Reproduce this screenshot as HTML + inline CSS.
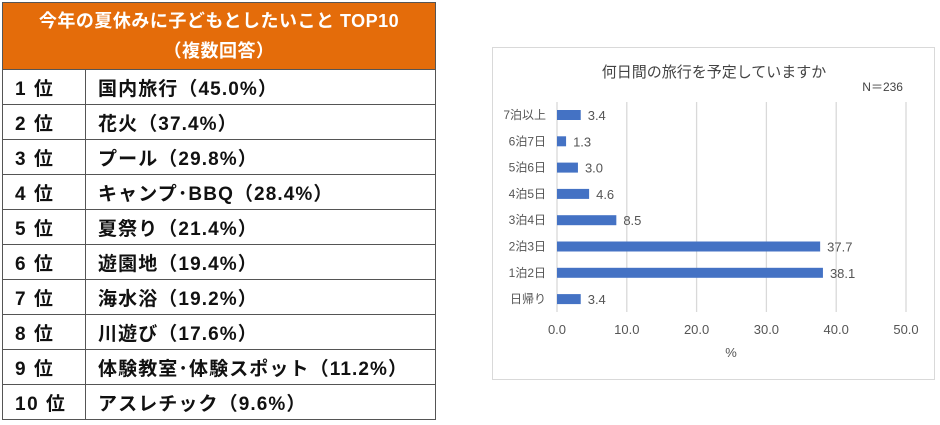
<!DOCTYPE html>
<html><head><meta charset="utf-8"><style>
body{margin:0;width:940px;height:425px;background:#fff;position:relative;overflow:hidden;font-family:"Liberation Sans","Noto Sans CJK JP",sans-serif}
table{position:absolute;left:2px;top:2px;border-collapse:collapse;width:434px}
td{border:1px solid #555;height:34px;padding:0 0 0 12px;font-weight:bold;font-size:19px;letter-spacing:1.1px;color:#111}
td.h{background:#E46C0A;color:#fff;text-align:center;font-size:18px;letter-spacing:0.5px;height:66px;line-height:30px;padding:0}
td.r{width:70px;letter-spacing:1.5px}
#chart{position:absolute;left:492px;top:47px;width:441px;height:331px;border:1px solid #d9d9d9}
</style></head><body>
<table>
<tr><td class="h" colspan="2">今年の夏休みに子どもとしたいこと TOP10<br>（複数回答）</td></tr>
<tr><td class="r">1 位</td><td>国内旅行（45.0%）</td></tr>
<tr><td class="r">2 位</td><td>花火（37.4%）</td></tr>
<tr><td class="r">3 位</td><td>プール（29.8%）</td></tr>
<tr><td class="r">4 位</td><td>キャンプ･BBQ（28.4%）</td></tr>
<tr><td class="r">5 位</td><td>夏祭り（21.4%）</td></tr>
<tr><td class="r">6 位</td><td>遊園地（19.4%）</td></tr>
<tr><td class="r">7 位</td><td>海水浴（19.2%）</td></tr>
<tr><td class="r">8 位</td><td>川遊び（17.6%）</td></tr>
<tr><td class="r">9 位</td><td>体験教室･体験スポット（11.2%）</td></tr>
<tr><td class="r">10 位</td><td>アスレチック（9.6%）</td></tr>
</table>
<div id="chart"></div>
<svg id="svg" width="940" height="425" style="position:absolute;left:0;top:0" font-family="Liberation Sans, Noto Sans CJK JP, sans-serif">
<text x="714" y="77" font-size="15" fill="#444" text-anchor="middle">何日間の旅行を予定していますか</text>
<text x="903" y="91" font-size="12" fill="#444" text-anchor="end">N＝236</text>
<text x="731" y="357" font-size="13" fill="#555" text-anchor="middle">%</text>
<g id="g"></g>
</svg>
<script>
const categories=["7泊以上","6泊7日","5泊6日","4泊5日","3泊4日","2泊3日","1泊2日","日帰り"];
const values=[3.4,1.3,3.0,4.6,8.5,37.7,38.1,3.4];
const ticks=[0,10,20,30,40,50];
const x=v=>557+v*(906-557)/50;
const y=i=>115+i*26.3;
const g=document.getElementById('g');const NS='http://www.w3.org/2000/svg';
function mk(t,a){const e=document.createElementNS(NS,t);for(const k in a)e.setAttribute(k,a[k]);g.appendChild(e);return e;}
ticks.forEach(t=>{
 const l=mk('line',{x1:x(t),x2:x(t),y1:102,y2:312,stroke:'#d9d9d9','stroke-width':1.3});
 
 
 const tx=mk('text',{x:x(t),y:334,'font-size':13,fill:'#555','text-anchor':'middle'});tx.textContent=t.toFixed(1);
 
 
});
categories.forEach((c,i)=>{
 const lb=mk('text',{x:546,y:y(i)+4,'font-size':12,fill:'#555','text-anchor':'end'});lb.textContent=c;
 
 
 const r=mk('rect',{x:x(0),y:y(i)-5,width:x(values[i])-x(0),height:10,fill:'#4472C4'});
 
 
 const v=mk('text',{x:x(values[i])+7,y:y(i)+5,'font-size':13,fill:'#555'});v.textContent=values[i].toFixed(1);
 
 
});
</script>
</body></html>
